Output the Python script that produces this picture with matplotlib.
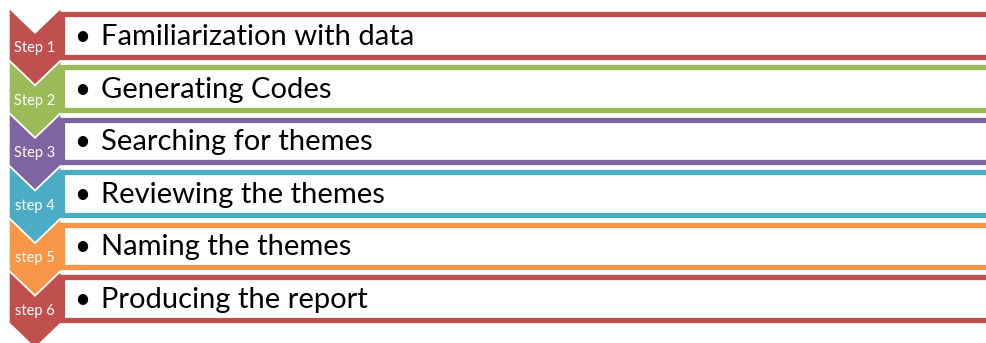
import matplotlib.pyplot as plt
from matplotlib.patches import Polygon, Rectangle

steps = ['Step 1', 'Step 2', 'Step 3', 'step 4', 'step 5', 'step 6']
items = ['Familiarization with data', 'Generating Codes', 'Searching for themes',
         'Reviewing the themes', 'Naming the themes', 'Producing the report']
colors = ['#C0504D', '#9BBB59', '#8064A2', '#4BACC6', '#F79646', '#C0504D']

fig = plt.figure(figsize=(9.86, 3.43), dpi=100)
ax = fig.add_axes([0, 0, 1, 1])
ax.set_xlim(0, 986)
ax.set_ylim(343, 0)
ax.axis('off')

pitch = 52.6
for i, (lab, txt, c) in enumerate(zip(steps, items, colors)):
    t = 8 + pitch * i
    # chevron on the left
    chev = [(9, t), (35, t + 25), (61, t), (61, t + 52), (35, t + 77), (9, t + 52)]
    ax.add_patch(Polygon(chev, closed=True, facecolor=c, edgecolor='white',
                         linewidth=1, zorder=2 + i))
    # outlined box with the text
    ax.add_patch(Rectangle((62, t + 6.3), 960, 42.7, facecolor='white',
                           edgecolor=c, linewidth=3.8, zorder=10))
    ax.text(35, t + 40, lab, color='white', fontsize=10.5, family='Lato',
            ha='center', va='center', zorder=20)
    ax.text(82, t + 37, '\u2022', fontsize=20, family='Lato',
            ha='center', va='baseline', zorder=20)
    ax.text(101, t + 37, txt, fontsize=21, family='Lato',
            ha='left', va='baseline', zorder=20)

fig.savefig('out.png', dpi=100)
